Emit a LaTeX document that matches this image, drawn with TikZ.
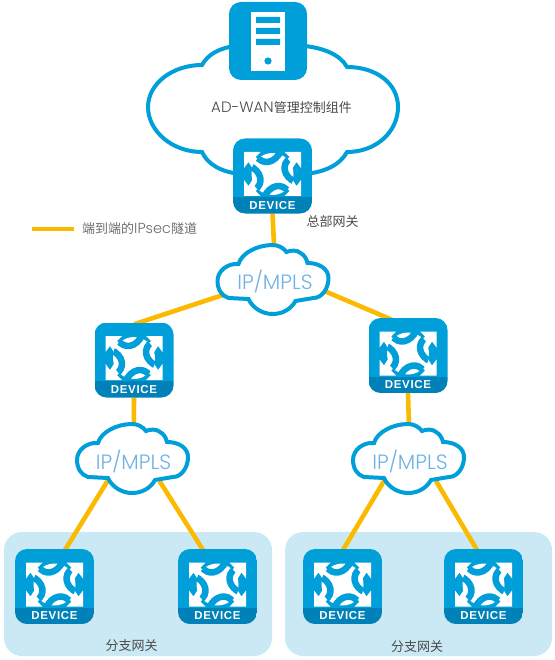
\documentclass[tikz,border=0pt]{standalone}
\usepackage{fontspec}
\setmainfont{Poppins Light}
\newfontfamily\cjk{Noto Sans CJK SC}
\newfontfamily\latinlab{Poppins Light}
\newfontfamily\devfont[LetterSpace=6]{Liberation Sans}
\usetikzlibrary{backgrounds,calc}
\definecolor{hblue}{HTML}{009FD9}
\definecolor{hdark}{HTML}{0081B8}
\definecolor{hgold}{HTML}{FBBA00}
\definecolor{hpale}{HTML}{CBE9F4}
\definecolor{htext}{HTML}{4A4A4A}
\definecolor{hlabel}{HTML}{6FB2E4}
\tikzset{
  x=1pt,y=-1pt,
  link/.style={draw=hgold,line width=4.6pt},
  devbody/.style={inner sep=0pt,minimum width=79pt,minimum height=75pt},
  region/.style={fill=hpale,rounded corners=18pt,draw=none},
  cap text/.style={font=\cjk\fontsize{13}{14}\selectfont,text=htext,inner sep=0pt},
  cloudlabel/.style={font=\latinlab\fontsize{20.7}{22}\selectfont,text=hlabel,inner sep=0pt,minimum width=76pt,minimum height=30pt},
  icon/.pic={
    \begin{scope}
      \clip[rounded corners=12pt] (-39.5,-37.5) rectangle (39.5,37.5);
      \fill[hblue] (-39.5,-37.5) rectangle (39.5,21);
      \fill[hdark] (-39.5,21) rectangle (39.5,37.5);
    \end{scope}
    \begin{scope}[shift={(0,-2)}]
      \foreach \sx/\sy in {1/1,1/-1,-1/1,-1/-1}{
        \fill[white,xscale=\sx,yscale=\sy]
          (28.5,-22) -- (12,-22) -- (17,-17) -- (9,-9) -- (17,-1) -- (24,-12) -- (28.5,-6) -- cycle;
      }
      \fill[white] (0,0) circle[radius=21];
      \begin{scope}
        \clip (0,0) circle[radius=21.5];
        \foreach \a in {12,102,192,282}{
          \draw[hblue,line width=6.5pt,rotate=\a] (-12,-21) .. controls (-8,-10) and (5,-10) .. (13,-21);
        }
      \end{scope}
    \end{scope}
    \node[text=white,inner sep=0pt] at (0,29.3)
      {\devfont\bfseries\fontsize{11.5}{12}\selectfont DEVICE};
  },
  smallcloud/.pic={
    \draw[hblue,line width=4pt,fill=white]
      (-56,0) .. controls (-56,-10) and (-46,-18) .. (-35,-17)
      .. controls (-32,-28) and (-16,-36) .. (-1,-36)
      .. controls (5,-36) and (10,-33) .. (13,-29)
      .. controls (17,-31) and (24,-31) .. (27,-28)
      .. controls (31,-26) and (33,-22) .. (34,-18)
      .. controls (46,-18) and (55,-12) .. (55,-3)
      .. controls (55,8) and (48,17) .. (40,17)
      -- (22,20)
      .. controls (17,29) and (8,33) .. (-1,33)
      .. controls (-11,33) and (-21,27) .. (-25,18)
      -- (-45,17)
      .. controls (-52,15) and (-56,8) .. (-56,0) -- cycle;
  }
}
\begin{document}
\begin{tikzpicture}
\useasboundingbox (0,0) rectangle (554,660);
% big cloud
\draw[hblue,line width=4pt,fill=white]
  (148,107) .. controls (148,84) and (172,65) .. (202,65)
  .. controls (208,54) and (220,48) .. (235,46)
  -- (305,46)
  .. controls (322,48) and (340,54) .. (347,67)
  .. controls (377,67) and (398,84) .. (398,107)
  .. controls (398,131) and (377,152) .. (347,152)
  .. controls (340,165) and (325,172) .. (305,174)
  -- (240,174)
  .. controls (222,172) and (208,165) .. (202,152)
  .. controls (172,152) and (148,131) .. (148,107) -- cycle;
\node[inner sep=0pt,minimum width=78pt,minimum height=78pt,fill=hblue,rounded corners=12pt] (server) at (268,41) {};
\fill[white] (251,12) rectangle (285,71);
\fill[hblue] (256,17) rectangle (280,23) (256,28) rectangle (280,34) (256,39) rectangle (280,45);
\fill[hblue] (268,61) circle[radius=3.6];
\node[font=\latinlab\fontsize{15}{16}\selectfont,text=htext,inner sep=0pt] (cname) at (281.5,108)
  {AD-WAN{\cjk\fontsize{13}{16}\selectfont 管理控制组件}};

% devices
\node[devbody] (hq) at (272.5,176) {};
\pic at (272.5,176) {icon};
\node[devbody] (mleft) at (134,360) {};
\pic at (134,360) {icon};
\node[devbody] (mright) at (408,355.5) {};
\pic at (408,355.5) {icon};
\node[devbody] (b1) at (54.5,586.5) {};
\pic at (54.5,586.5) {icon};
\node[devbody] (b2) at (217.5,586.5) {};
\pic at (217.5,586.5) {icon};
\node[devbody] (b3) at (342.5,586.5) {};
\pic at (342.5,586.5) {icon};
\node[devbody] (b4) at (483.5,586.5) {};
\pic at (483.5,586.5) {icon};

% clouds
\pic at (273.5,281) {smallcloud};
\node[cloudlabel] (c1) at (275,281) {IP/MPLS};
\pic at (133,460) {smallcloud};
\node[cloudlabel] (c2) at (133.5,461) {IP/MPLS};
\pic at (409,460) {smallcloud};
\node[cloudlabel] (c3) at (410,461) {IP/MPLS};

% labels
\coordinate (legA) at (32,229);
\coordinate (legB) at (74,229);
\node[cap text,anchor=west,text=gray!85!black] (legend) at (82,229) {端到端的{\latinlab\fontsize{14.5}{14}\selectfont IPsec}隧道};
\node[cap text] (hqname) at (332.5,222) {总部网关};
\node[cap text] (bn1) at (131.5,646) {分支网关};
\node[cap text] (bn2) at (417,647) {分支网关};

\begin{scope}[on background layer]
  \fill[region] (4,532) rectangle (272,656);
  \fill[region] (285,532) rectangle (552,656);
  \draw[link] (hq.south) -- (c1.north);
  \draw[link] (c1.center) ++(-40,10) -- ($(mleft.north)+(0,2)$);
  \draw[link] (c1.center) ++(40,6) -- ($(mright.north)+(-16,2)$);
  \draw[link] (mleft.south) -- (c2.center);
  \draw[link] (mright.south) -- (c3.center);
  \draw[link] (c2.center) ++(-26,20) -- ($(b1.north)+(10,2)$);
  \draw[link] (c2.center) ++(26,20) -- ($(b2.north)+(-14,2)$);
  \draw[link] (c3.center) ++(-26,20) -- ($(b3.north)+(0,2)$);
  \draw[link] (c3.center) ++(26,20) -- ($(b4.north)+(-6,2)$);
  \draw[link] (legA) -- (legB);
\end{scope}
\end{tikzpicture}
\end{document}
